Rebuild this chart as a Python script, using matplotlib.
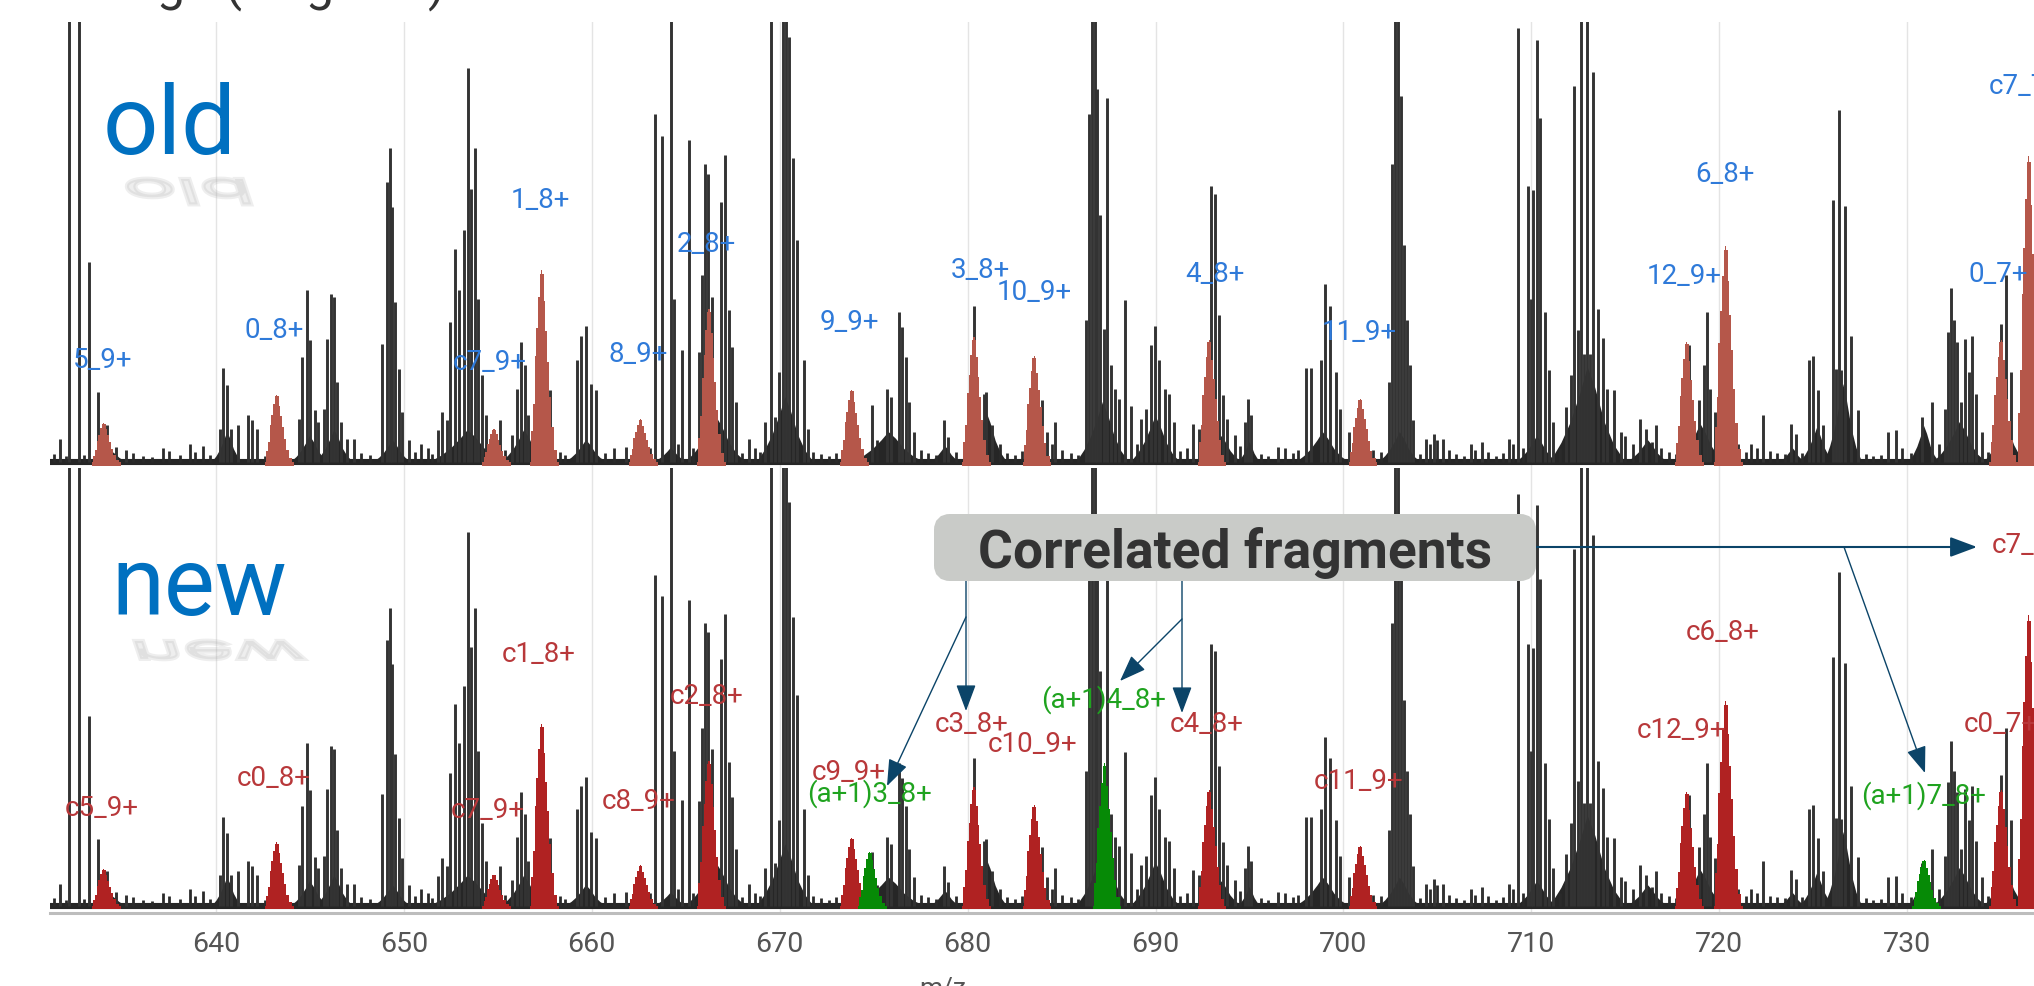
import matplotlib
matplotlib.use('AGG')
import matplotlib.pyplot as plt
import numpy as np
from matplotlib.font_manager import FontProperties
from matplotlib.patches import FancyBboxPatch, PathPatch
from matplotlib.textpath import TextPath
from matplotlib.transforms import Affine2D

plt.rcParams['font.family'] = ['Roboto', 'DejaVu Sans']

# sticks of the spectrum (height = px in the upper panel)
stick_mz = [631.72, 632.2, 632.72, 633.24, 633.72, 634.2, 634.7, 635.2,
            640.2, 640.4, 640.6, 640.8, 641.2, 641.7, 641.9, 642.2,
            644.4, 644.6, 644.83, 645.0, 645.25, 645.45,
            645.75, 645.93, 646.14, 646.28, 646.45, 646.66, 647.0, 647.35,
            648.86, 649.1, 649.24, 649.38, 649.55, 649.72, 649.9, 650.25,
            651.8, 652.03, 652.28, 652.48, 652.72, 652.93, 653.2, 653.41, 653.6, 653.8, 653.97, 654.17, 654.38,
            655.14, 655.76, 656.03, 656.24, 656.45, 656.62, 657.76,
            659.2, 659.45, 659.72, 659.97, 660.24,
            661.8, 663.34, 663.76, 664.2, 664.38, 664.8, 665.17, 665.7, 665.86, 666.03, 666.2, 666.38,
            666.9, 667.07, 667.28, 667.48, 667.7, 668.35,
            669.2, 669.52, 669.75, 669.97, 670.17, 670.35, 670.52, 670.7, 670.93, 671.28, 671.5,
            674.9, 675.7, 675.93, 676.34, 676.52, 676.7, 676.9, 677.15,
            678.76, 678.97, 680.34, 680.6, 680.86, 681.0, 681.3,
            683.97, 684.25, 684.66,
            686.3, 686.48, 686.62, 686.76, 686.9, 687.07, 687.24, 687.41, 687.62, 687.86, 688.07, 688.38, 688.69,
            689.24, 689.48, 689.76, 689.97, 690.17, 690.52, 690.72, 690.97, 692.0, 692.3,
            692.93, 693.14, 693.38, 693.59, 693.83, 694.24, 694.75, 694.93, 695.1, 696.5,
            698.0, 698.28, 698.8, 699.03, 699.31, 699.59, 699.83, 700.28,
            702.41, 702.59, 702.72, 702.9, 703.07, 703.2, 703.38, 703.55, 703.72,
            704.4, 704.83, 705.3, 706.8, 707.4, 708.8,
            709.31, 709.8, 709.97, 710.1, 710.31, 710.48, 710.72, 710.93, 711.14,
            711.83, 712.1, 712.28, 712.48, 712.62, 712.8, 712.97, 713.13, 713.28, 713.55, 713.79, 714.03, 714.41, 714.75,
            715.8, 716.1, 716.66, 718.38, 718.9, 719.17, 719.34, 719.52, 719.76,
            721.0, 722.34, 723.8, 724.1, 724.76, 725.0, 725.28, 725.5,
            726.03, 726.2, 726.38, 726.5, 726.69, 727.0, 727.38, 729.0, 729.38,
            730.79, 731.31, 732.0, 732.17, 732.34, 732.48, 732.66, 732.85, 733.1, 733.28, 733.45, 733.66, 734.0,
            735.0, 735.28, 735.5]
stick_h = [23, 500, 500, 200, 70, 37, 15, 12,
           33, 94, 77, 33, 37, 47, 42, 33,
           43, 105, 172, 122, 52, 40,
           53, 123, 168, 165, 80, 40, 23, 23,
           118, 280, 314, 255, 160, 93, 50, 22,
           32, 50, 42, 140, 213, 172, 232, 394, 273, 314, 163, 87, 47,
           42, 27, 73, 120, 97, 47, 72,
           102, 126, 136, 78, 72,
           15, 348, 326, 500, 163, 112, 322, 110, 187, 298, 288, 165,
           260, 307, 152, 115, 60, 23,
           40, 500, 45, 90, 500, 500, 425, 304, 222, 102, 33,
           57, 73, 65, 150, 135, 105, 60, 30,
           42, 25, 156, 63, 68, 70, 37,
           62, 30, 40,
           142, 348, 500, 500, 373, 247, 133, 364, 97, 73, 63, 162, 56,
           43, 53, 117, 136, 102, 73, 68, 40, 38, 33,
           276, 268, 147, 67, 43, 27, 40, 63, 47, 15,
           94, 94, 102, 178, 156, 90, 53, 30,
           80, 298, 500, 500, 366, 217, 142, 97, 42,
           23, 28, 23, 18, 20, 23,
           434, 276, 163, 272, 422, 344, 150, 92, 40,
           55, 87, 376, 132, 500, 108, 500, 108, 390, 153, 124, 73, 72, 30,
           43, 33, 37, 117, 62, 97, 150, 73, 50,
           18, 47, 38, 28, 102, 106, 72, 37,
           262, 93, 352, 92, 256, 126, 52, 30, 32,
           45, 60, 53, 130, 174, 142, 120, 60, 123, 90, 126, 68, 30,
           138, 187, 90]

# low grass between the clusters
grass_mz = [631.4, 632.0, 633.0, 635.6, 636.1, 636.6, 637.2, 637.5, 638.1, 638.6, 638.9, 639.3, 639.7, 642.6, 643.0,
            647.7, 648.2, 650.6, 650.9, 651.3, 651.5, 655.4, 658.3, 658.6, 660.7, 661.2, 662.1, 662.9, 663.1,
            664.6, 665.4, 668.0, 668.7, 668.95, 671.8, 672.2, 672.6, 673.0, 673.3, 675.2, 677.5, 677.9, 678.3,
            679.4, 679.8, 681.7, 682.1, 682.5, 682.9, 684.5, 685.0, 685.5, 685.9, 689.0, 691.3, 691.7, 694.5,
            695.6, 696.0, 696.9, 697.3, 697.6, 700.6, 701.6, 702.0, 704.1, 704.6, 705.0, 705.6, 706.0, 706.4,
            707.0, 707.7, 708.1, 708.5, 709.0, 709.55, 711.5, 715.0, 715.4, 716.4, 716.9, 717.3, 717.7, 721.4,
            721.7, 722.0, 722.7, 723.1, 723.5, 724.4, 727.8, 728.2, 728.6, 729.7, 730.2, 730.5, 731.7, 734.3]
grass_h = [8, 6, 7, 9, 6, 5, 14, 11, 7, 18, 10, 16, 7, 6, 8,
           9, 7, 10, 18, 14, 8, 12, 10, 7, 9, 14, 7, 10, 14,
           18, 14, 9, 14, 10, 10, 8, 6, 9, 8, 22, 12, 9, 7,
           10, 14, 18, 9, 7, 11, 18, 12, 9, 7, 18, 11, 14, 16,
           8, 6, 14, 9, 12, 15, 12, 10, 8, 18, 22, 12, 8, 6,
           12, 10, 6, 9, 18, 14, 14, 26, 18, 20, 14, 10, 8, 10,
           18, 14, 11, 9, 8, 9, 8, 6, 7, 14, 9, 12, 18, 10]

# base of the clusters (center, half width, height)
mound_mz = [634.5, 640.6, 645.0, 646.3, 649.4, 653.4, 656.4, 659.7, 664.2, 666.6, 670.3, 675.8, 678.8,
            681.0, 687.2, 690.0, 693.5, 695.0, 698.9, 703.0, 710.3, 713.0, 716.2, 719.0, 723.9, 725.2,
            726.6, 730.9, 732.8, 735.2]
mound_w = [0.8, 0.8, 1.0, 1.0, 1.0, 2.0, 1.2, 1.1, 0.9, 1.6, 1.5, 1.9, 0.8,
           1.1, 1.4, 1.3, 1.1, 0.6, 1.4, 1.1, 1.1, 2.0, 1.1, 1.3, 0.7, 0.9,
           1.0, 0.8, 1.4, 1.1]
mound_h = [10, 30, 26, 32, 22, 32, 32, 22, 14, 46, 65, 30, 16,
           50, 60, 46, 26, 20, 30, 30, 26, 95, 22, 38, 14, 34,
           78, 36, 40, 40]

# c fragments (red in both panels)
frag_mz = [634.03, 643.24, 654.8, 657.34, 662.6, 666.24, 673.83, 680.34, 683.55, 692.86, 700.9, 718.28, 720.34, 735.0, 736.48]
frag_h = [39, 67, 33, 192, 43, 153, 72, 125, 106, 122, 63, 120, 216, 122, 306]

# correlated fragments, only in the lower panel
corr_mz = [674.8, 687.28, 730.9]
corr_h = [57, 150, 48]

old_labels = ['5_9+', '0_8+', 'c7_9+', '1_8+', '8_9+', '2_8+', '9_9+', '3_8+', '10_9+', '4_8+', '11_9+', '12_9+', '6_8+', '0_7+', 'c7_7+']
old_label_mz = [633.97, 643.1, 654.55, 657.28, 662.48, 666.1, 673.69, 680.66, 683.55, 693.14, 700.86, 718.14, 720.28, 734.86, 736.3]
old_label_h = [103, 133, 101, 263, 109, 219, 140, 192, 170, 189, 130, 186, 288, 189, 377]

new_labels = ['c5_9+', 'c0_8+', 'c7_9+', 'c1_8+', 'c8_9+', 'c2_8+', 'c9_9+', 'c3_8+', 'c10_9+', 'c4_8+', 'c11_9+', 'c12_9+', 'c6_8+', 'c0_7+', 'c7_7+']
new_label_mz = [633.9, 643.1, 654.45, 657.2, 662.5, 666.1, 673.7, 680.2, 683.45, 692.7, 700.8, 718.0, 720.17, 735.0, 736.45]
new_label_h = [104, 135, 102, 266, 111, 222, 142, 192, 171, 192, 132, 186, 289, 192, 380]

green_labels = ['(a+1)3_8+', '(a+1)4_8+', '(a+1)7_8+']
green_label_mz = [674.8, 687.24, 730.86]
green_label_h = [119, 218, 117]

x_ticks = [640, 650, 660, 670, 680, 690, 700, 710, 720, 730]

# peak outlines
shape_dx = np.array([-0.62, -0.5, -0.42, -0.34, -0.24, -0.14, -0.06, 0.0, 0.06, 0.14, 0.24, 0.34, 0.44, 0.56, 0.72, 0.9])
shape_y = np.array([0.0, 0.16, 0.3, 0.55, 0.7, 0.86, 0.98, 1.0, 0.98, 0.84, 0.68, 0.52, 0.34, 0.18, 0.06, 0.0])
mound_dx = np.array([-1.0, -0.7, -0.45, -0.2, 0.0, 0.2, 0.45, 0.7, 1.0])
mound_y = np.array([0.0, 0.2, 0.42, 0.72, 1.0, 0.78, 0.42, 0.18, 0.0])


def draw_spectrum(ax, frag_color, lab, lab_mz, lab_h, lab_color):
    ax.set_xlim(631.17, 736.75)
    ax.set_xticks(x_ticks)
    ax.grid(axis='x', color='#e4e4e4', linewidth=1)
    ax.set_axisbelow(True)
    ax.set_yticks([])
    ax.patch.set_alpha(0)
    for s in ['top', 'left', 'right', 'bottom']:
        ax.spines[s].set_visible(False)
    ax.plot([631.17, 736.75], [0, 0], color='#262626', linewidth=4.4, solid_capstyle='butt')
    ax.vlines(grass_mz, 0, grass_h, color='#2a2a2a', linewidth=2.0)
    for c, w, h in zip(mound_mz, mound_w, mound_h):
        ax.fill(c + w * mound_dx, h * mound_y, color='#262626', linewidth=0)
    ax.vlines(stick_mz, 0, stick_h, color='#333333', linewidth=2.1)
    for c, h in zip(frag_mz, frag_h):
        ax.fill_between(c + shape_dx, -3.5, np.maximum(h * shape_y, -3.5), color=frag_color, linewidth=0,
                        step='mid', zorder=2.5)
    for t, m, h in zip(lab, lab_mz, lab_h):
        ax.text(m, h, t, color=lab_color, fontsize=20, ha='center', va='center', clip_on=True)


fig = plt.figure(figsize=(20.34, 9.87), dpi=100, facecolor='white')

ax_old = fig.add_axes([50 / 2034, (987 - 469) / 987, 1984 / 2034, 446 / 987])
ax_old.set_ylim(-6, 440)
ax_old.set_xticklabels([])
ax_old.tick_params(axis='x', length=0)
draw_spectrum(ax_old, '#b5574a', old_labels, old_label_mz, old_label_h, '#2f7ad9')

ax_new = fig.add_axes([50 / 2034, (987 - 914) / 987, 1984 / 2034, 445 / 987])
ax_new.set_ylim(-7.4, 461)
draw_spectrum(ax_new, '#b02222', new_labels, new_label_mz, new_label_h, '#b8383a')
for c, h in zip(corr_mz, corr_h):
    ax_new.fill_between(c + shape_dx, -3.5, np.maximum(h * shape_y, -3.5), color='#068a06', linewidth=0,
                        step='mid', zorder=2.5)
for t, m, h in zip(green_labels, green_label_mz, green_label_h):
    ax_new.text(m, h, t, color='#1fa31f', fontsize=20, ha='center', va='center')
ax_new.spines['bottom'].set_visible(True)
ax_new.spines['bottom'].set_color('#bdbdbd')
ax_new.spines['bottom'].set_linewidth(2.2)
ax_new.tick_params(axis='x', length=0, labelsize=20.5, labelcolor='#555555', pad=12)
ax_new.set_xlabel('m/z', fontsize=19, color='#555555', va='top')
ax_new.xaxis.set_label_coords((943 - 50) / 1984, -(977 - 914) / 445)

# overlay in picture pixels for the callouts and big words
ov = fig.add_axes([0, 0, 1, 1], facecolor='none')
ov.set_xlim(0, 2034)
ov.set_ylim(987, 0)
ov.axis('off')

ov.text(103, 154, 'old', color='#0070c0', fontproperties=FontProperties(family='Roboto', weight='normal', size=70), va='baseline')
ov.text(111, 615, 'new', color='#0070c0', fontproperties=FontProperties(family='Roboto', weight='normal', size=69), va='baseline')

# faint mirror of the words
for word, tx, ty, sy in [('old', 120, 180, 0.36), ('new', 128, 642, 0.36)]:
    path = TextPath((0, 0), word, size=94, prop=FontProperties(family='Roboto'))
    tr = Affine2D(np.array([[1.0, 0.12, tx], [0, sy, ty], [0, 0, 1]]))
    ov.add_patch(PathPatch(path, transform=tr + ov.transData, facecolor='#aaaaaa', edgecolor='#aaaaaa',
                           linewidth=3, alpha=0.2))

# cut-off line of the slide title
for t, x in [('g', 157), ('(', 225), ('g', 306), (')', 428)]:
    ov.text(x, -1, t, color='#333333', fontsize=36, va='baseline', clip_on=False)

box = FancyBboxPatch((942, 523), 586, 51, boxstyle='round,pad=0,rounding_size=8', facecolor='#c9cbc8', edgecolor='#c9cbc8',
                     linewidth=16 * 0.72, zorder=4)
ov.add_patch(box)
ov.text(1235, 553, 'Correlated fragments', color='#333333', fontsize=38.4, fontweight='bold', ha='center', va='center', zorder=5)

arrow_col = '#0b4468'
arrows = [((966, 582), (966, 712), 1.0), ((966, 618), (887, 787), 1.0),
          ((1182, 582), (1182, 714), 1.0), ((1182, 620), (1120, 682), 1.0),
          ((1536, 548), (1977, 548), 1.5), ((1844, 548), (1925, 774), 1.0)]
for start, end, lw in arrows:
    ov.annotate('', xy=end, xytext=start, zorder=3,
                arrowprops=dict(arrowstyle='-|>,head_length=0.75,head_width=0.28', color=arrow_col, lw=lw,
                                mutation_scale=22, shrinkA=0, shrinkB=0))

fig.savefig('out.png', dpi=100)
